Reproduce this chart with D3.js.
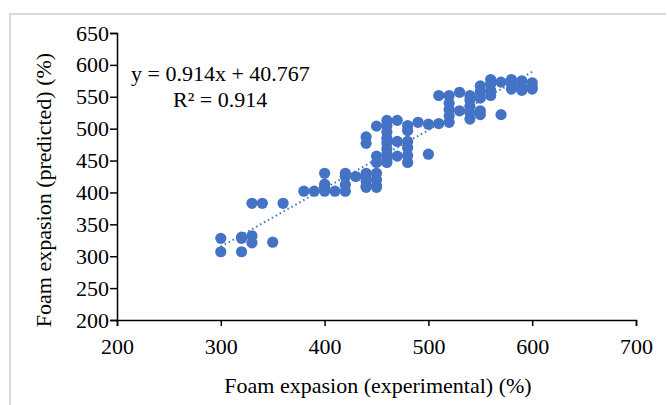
<!DOCTYPE html>
<html><head><meta charset="utf-8">
<script src="https://cdn.jsdelivr.net/npm/d3@7"></script>
<style>body{margin:0;background:#fff}svg{display:block}text{font-family:"Liberation Serif","Times New Roman",serif}</style>
</head><body>
<svg id="c" width="667" height="405"></svg>
<script>
const xTicks = [200,300,400,500,600,700];
const yTicks = [200,250,300,350,400,450,500,550,600,650];
const experimental = [
 300,300, 320,320,320, 330,330,330, 340, 350, 360, 380, 390,
 400,400,400,400, 410, 420,420,420,420, 430,
 440,440,440,440,440,440,440,
 450,450,450,450,450,450,450,
 460,460,460,460,460,460,460,460,460,
 470,470,470,
 480,480,480,480,480,480,
 490, 500,500, 510,510,
 520,520,520,520,520, 530,530,
 540,540,540,540,540,
 550,550,550,550,550,
 560,560,560,560, 570,570,
 580,580,580, 590,590,590, 600,600,600
];
const predicted = [
 328,307, 328,330,307, 383,332,321, 383, 322, 383, 402, 402,
 430,413,408,402, 402, 430,425,412,402, 425,
 487,477,430,425,418,410,408,
 504,457,447,430,420,410,408,
 513,505,495,485,478,468,460,452,447,
 513,480,457,
 505,497,480,470,458,447,
 510, 507,460, 552,508,
 552,540,530,520,510, 557,528,
 552,545,535,525,515,
 567,558,548,528,522,
 577,570,560,552, 573,522,
 577,570,562, 575,565,560, 572,565,562
];
const slope = 0.914, intercept = 40.767;
const trendX = [300, 600];

const FONT = '"Liberation Serif","Times New Roman",serif';
const svg = d3.select("#c");
svg.append("path").attr("d","M10,405 L10,14 L666,14").attr("fill","none").attr("stroke","#d9d9d9").attr("stroke-width",2);

const x = d3.scaleLinear().domain([200,700]).range([117,636]);
const y = d3.scaleLinear().domain([200,650]).range([320,33]);

const xAxis = svg.append("g").attr("transform","translate(0,320)")
  .call(d3.axisBottom(x).tickValues(xTicks).tickSize(6).tickPadding(12));
const yAxis = svg.append("g").attr("transform","translate(117,0)")
  .call(d3.axisLeft(y).tickValues(yTicks).tickSize(7).tickPadding(1));
[xAxis,yAxis].forEach(g=>{
  g.attr("font-family",FONT).attr("font-size",22);
  g.select(".domain").attr("stroke","#000").attr("stroke-width",1.5);
  g.selectAll(".tick line").attr("stroke","#000").attr("stroke-width",1.5);
  g.selectAll(".tick text").attr("fill","#000").style("font-size","22px").style("font-family",FONT);
});

svg.append("g").selectAll("circle").data(experimental.map((d,i)=>[d,predicted[i]]))
  .join("circle").attr("cx",d=>x(d[0])).attr("cy",d=>y(d[1])).attr("r",5.6)
  .attr("fill","#4472C4");

svg.append("line")
  .attr("x1",x(trendX[0])).attr("y1",y(slope*trendX[0]+intercept))
  .attr("x2",x(trendX[1])).attr("y2",y(slope*trendX[1]+intercept))
  .attr("stroke","#4472C4").attr("stroke-width",2).attr("stroke-dasharray","1.5,3");

svg.append("text").attr("x",131).attr("y",81).style("font-size","22px").text("y = 0.914x + 40.767");
svg.append("text").attr("x",173).attr("y",107).style("font-size","22px").text("R² = 0.914");

svg.append("text").attr("x",378).attr("y",393).attr("text-anchor","middle")
  .style("font-size","22px").text("Foam expasion (experimental) (%)");
svg.append("text").attr("transform","translate(51,190) rotate(-90)").attr("text-anchor","middle")
  .style("font-size","22px").text("Foam expasion (predicted) (%)");
</script>
</body></html>
